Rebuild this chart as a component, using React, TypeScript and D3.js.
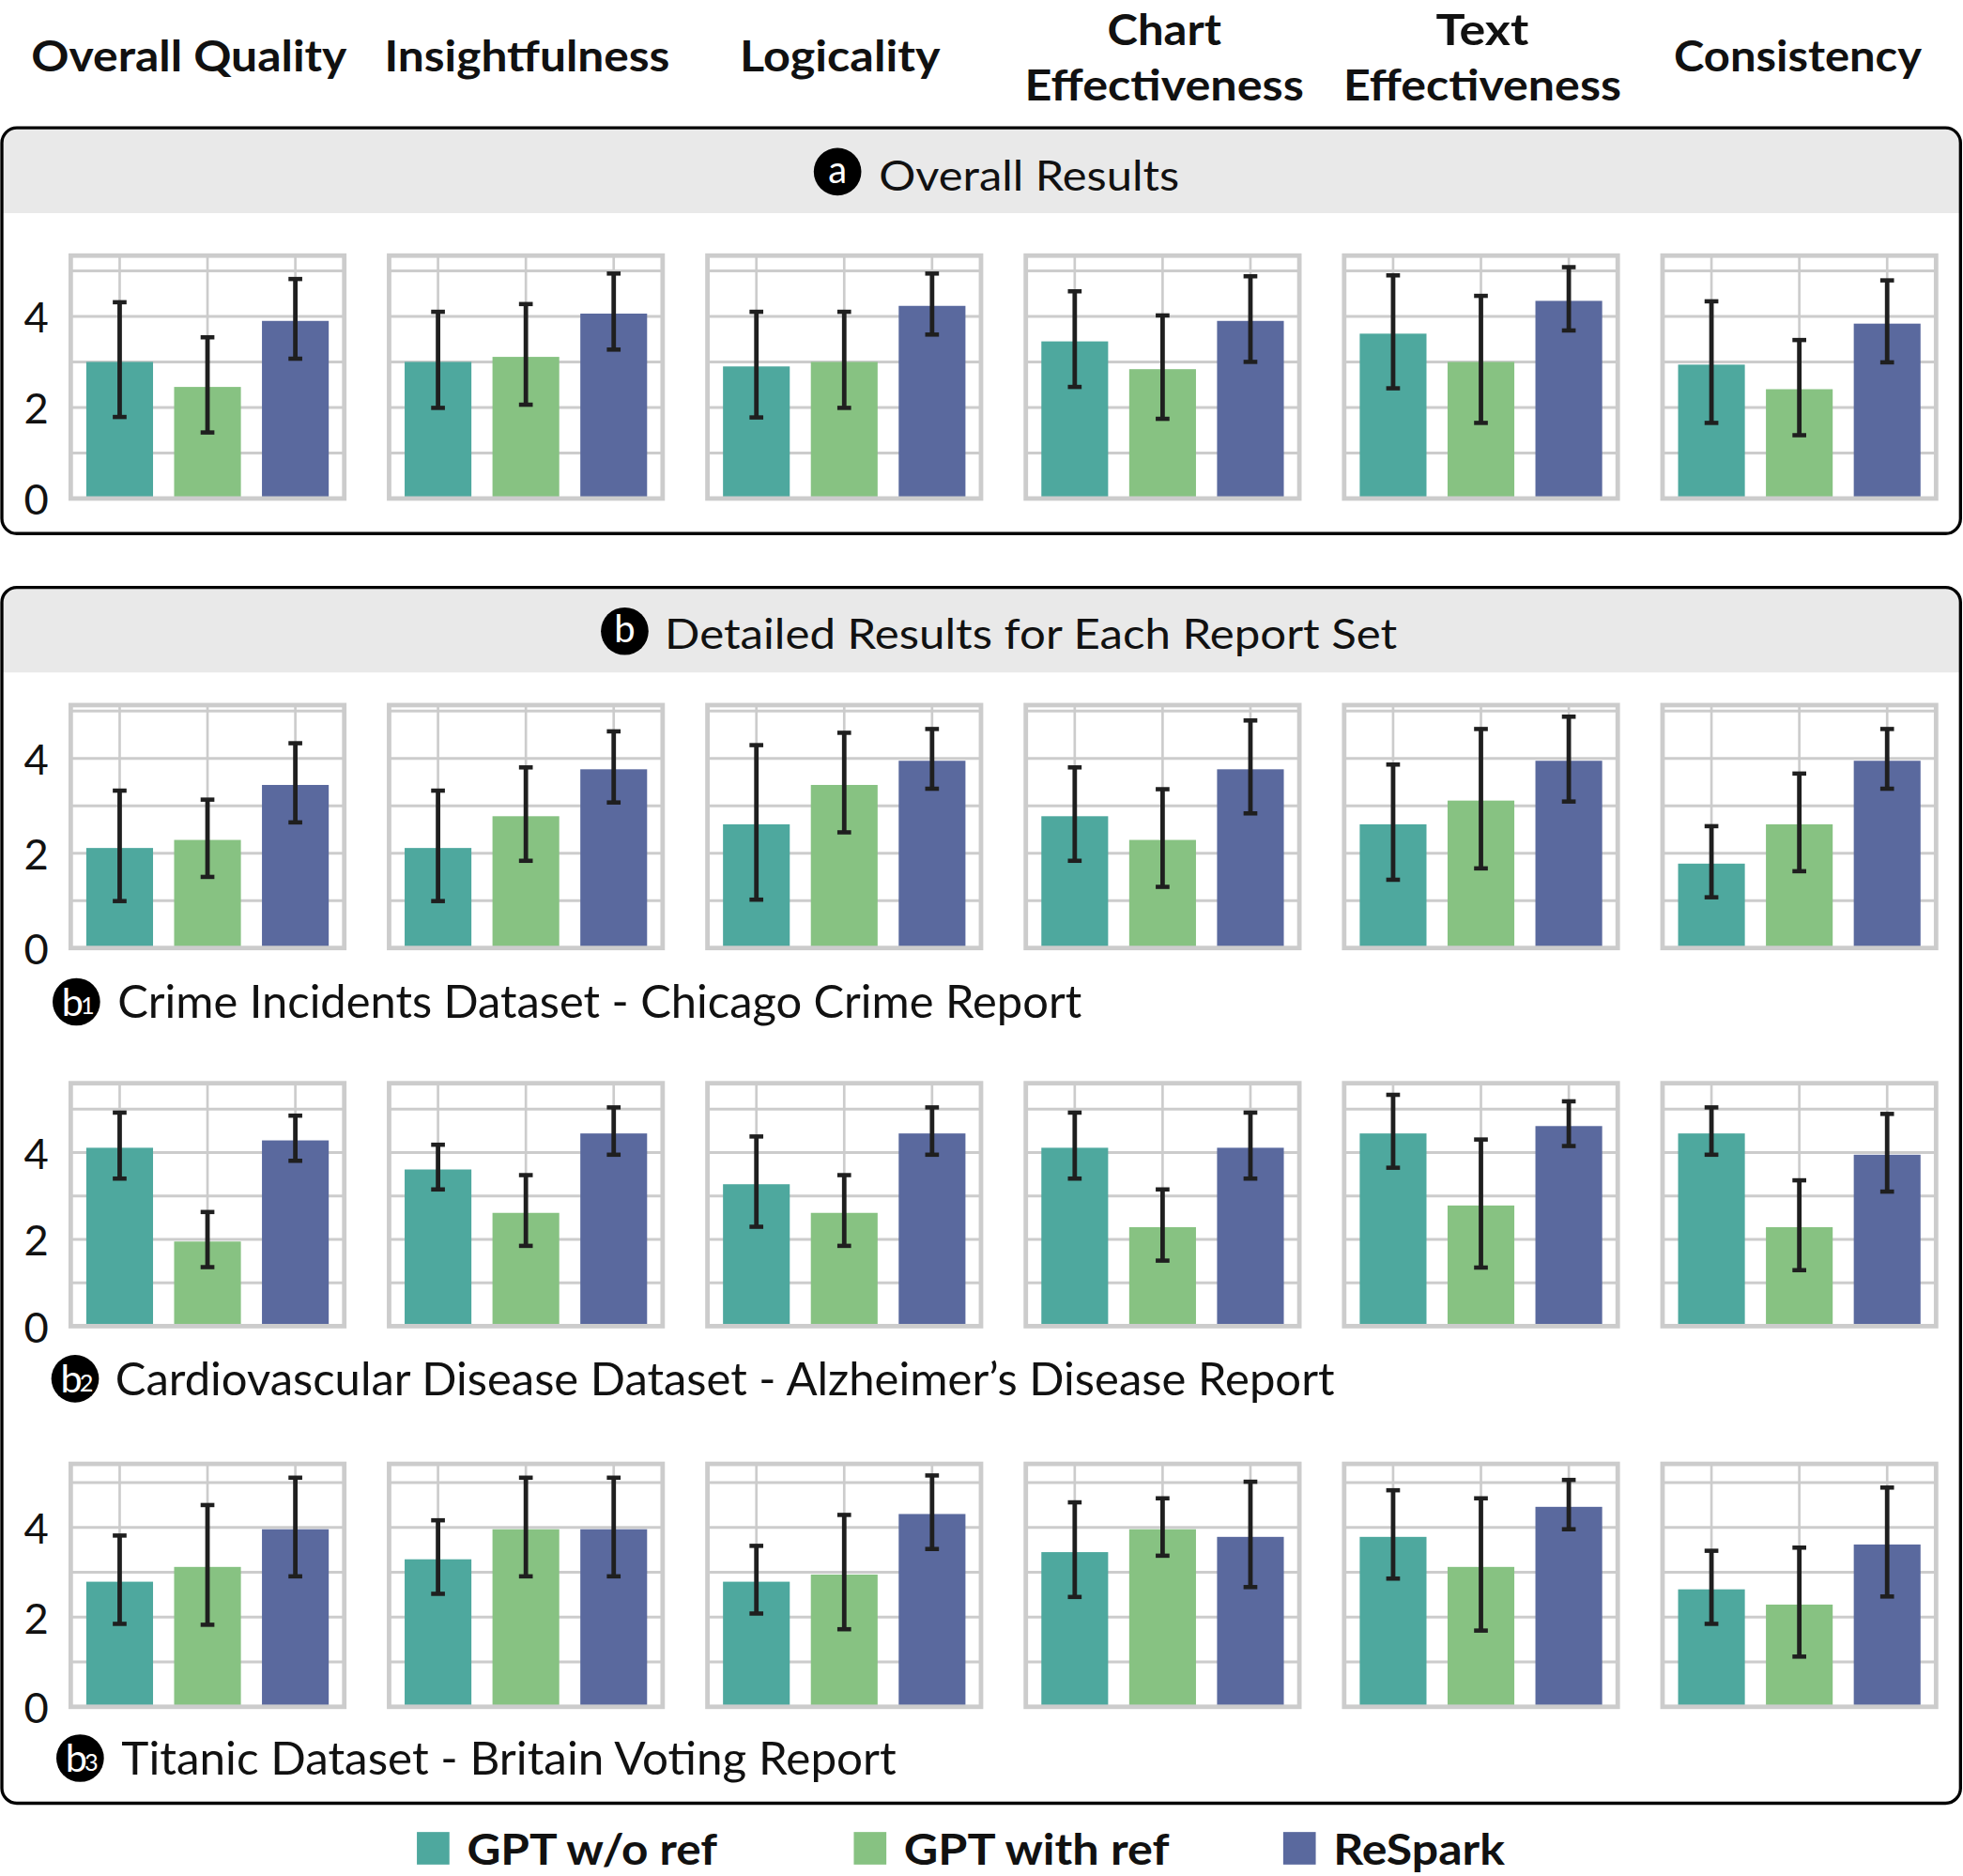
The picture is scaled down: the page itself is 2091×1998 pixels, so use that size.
import * as d3 from 'd3';
import * as React from 'react';

const W = 1568;
const H = 1498;
const FONT = 'Lato, "Open Sans", sans-serif';

const metrics = [
  'Overall Quality',
  'Insightfulness',
  'Logicality',
  'Chart Effectiveness',
  'Text Effectiveness',
  'Consistency',
];
const methods = ['GPT w/o ref', 'GPT with ref', 'ReSpark'];
const colors = ['#4ea89e', '#87c282', '#5a699e'];
const yTicks = [0, 2, 4];

// each row: one [GPT w/o ref, GPT with ref, ReSpark] triple per metric
const overallMean = [[3.0, 2.45, 3.9], [3.0, 3.11, 4.06], [2.9, 3.0, 4.23], [3.45, 2.84, 3.9], [3.62, 3.0, 4.34], [2.94, 2.4, 3.84]];
const overallLow = [[1.79, 1.45, 3.07], [1.99, 2.06, 3.27], [1.78, 1.99, 3.6], [2.45, 1.75, 3.0], [2.42, 1.66, 3.69], [1.66, 1.39, 2.99]];
const overallHigh = [[4.31, 3.54, 4.82], [4.1, 4.27, 4.94], [4.1, 4.1, 4.94], [4.55, 4.02, 4.88], [4.9, 4.45, 5.08], [4.33, 3.48, 4.79]];

const crimeMean = [[2.11, 2.28, 3.44], [2.11, 2.78, 3.77], [2.61, 3.44, 3.95], [2.78, 2.28, 3.77], [2.61, 3.11, 3.95], [1.78, 2.61, 3.95]];
const crimeLow = [[0.99, 1.5, 2.65], [0.99, 1.84, 3.07], [1.02, 2.44, 3.36], [1.84, 1.29, 2.84], [1.44, 1.68, 3.09], [1.07, 1.62, 3.36]];
const crimeHigh = [[3.32, 3.13, 4.32], [3.32, 3.81, 4.57], [4.28, 4.54, 4.62], [3.81, 3.35, 4.8], [3.87, 4.62, 4.88], [2.57, 3.68, 4.62]];

const cardioMean = [[4.11, 1.95, 4.28], [3.61, 2.61, 4.44], [3.27, 2.61, 4.44], [4.11, 2.28, 4.11], [4.44, 2.78, 4.61], [4.44, 2.28, 3.95]];
const cardioLow = [[3.4, 1.36, 3.81], [3.15, 1.85, 3.95], [2.29, 1.85, 3.95], [3.4, 1.51, 3.4], [3.65, 1.35, 4.15], [3.95, 1.29, 3.1]];
const cardioHigh = [[4.92, 2.63, 4.85], [4.18, 3.48, 5.04], [4.37, 3.48, 5.04], [4.92, 3.15, 4.92], [5.33, 4.3, 5.18], [5.04, 3.36, 4.89]];

const titanicMean = [[2.79, 3.12, 3.96], [3.29, 3.96, 3.96], [2.79, 2.95, 4.3], [3.45, 3.96, 3.79], [3.79, 3.12, 4.46], [2.62, 2.28, 3.62]];
const titanicLow = [[1.85, 1.83, 2.91], [2.52, 2.91, 2.91], [2.08, 1.73, 3.52], [2.45, 3.37, 2.67], [2.86, 1.7, 3.96], [1.85, 1.12, 2.46]];
const titanicHigh = [[3.82, 4.5, 5.11], [4.16, 5.11, 5.11], [3.59, 4.28, 5.16], [4.56, 4.65, 5.02], [4.83, 4.65, 5.06], [3.48, 3.55, 4.89]];

const rows = [
  { mean: overallMean, low: overallLow, high: overallHigh, top: 204 },
  { mean: crimeMean, low: crimeLow, high: crimeHigh, top: 563 },
  { mean: cardioMean, low: cardioLow, high: cardioHigh, top: 865 },
  { mean: titanicMean, low: titanicLow, high: titanicHigh, top: 1169 },
];

const plotH = 194;
const frameLeft = 56.5;
const frameStep = 254.3;
const frameW = 218.5;
const grid = '#cccccc';

// heading layout: centre x and fitted width per line
const headCx = [151, 421, 671, 930, 1184, 1436];
const headWidths = [[252], [228], [160], [91, 223], [74, 222], [198]];

const Badge = ({ cx, cy, letter, sub }: { cx: number; cy: number; letter: string; sub?: string }) => (
  <g>
    <circle cx={cx} cy={cy} r={19} fill="#000" />
    {sub ? (
      <>
        <text x={cx - 3} y={cy + 11} fill="#fff" fontSize={31} fontFamily={FONT} textAnchor="middle">{letter}</text>
        <text x={cx + 9} y={cy + 10} fill="#fff" fontSize={19} fontFamily={FONT} textAnchor="middle">{sub}</text>
      </>
    ) : (
      <text x={cx} y={cy + 9} fill="#fff" fontSize={30} fontFamily={FONT} textAnchor="middle">{letter}</text>
    )}
  </g>
);

const Panel = ({ left, top, mean, low, high, yMax }: any) => {
  const bottom = top + plotH;
  const x = d3.scalePoint<string>().domain(methods).range([left, left + frameW]).padding(0.557);
  const y = d3.scaleLinear().domain([0, yMax]).range([bottom, top]);
  const bw = x.step() * 0.76;
  const gridVals = d3.range(0, Math.floor(yMax) + 1);
  return (
    <g>
      {gridVals.map(v => (
        <line key={'h' + v} x1={left} x2={left + frameW} y1={y(v)} y2={y(v)} stroke={grid} strokeWidth={2.2} />
      ))}
      {methods.map(m => (
        <line key={'v' + m} x1={x(m)} x2={x(m)} y1={top} y2={bottom} stroke={grid} strokeWidth={2} />
      ))}
      {methods.map((m, i) => (
        <rect key={'b' + m} x={(x(m) as number) - bw / 2} y={y(mean[i])} width={bw} height={y(0) - y(mean[i])} fill={colors[i]} />
      ))}
      {methods.map((m, i) => {
        const cx = x(m) as number;
        return (
          <g key={'e' + m} stroke="#1f1f1f">
            <line x1={cx} x2={cx} y1={y(high[i])} y2={y(low[i])} strokeWidth={3.6} />
            <line x1={cx - 5.5} x2={cx + 5.5} y1={y(high[i])} y2={y(high[i])} strokeWidth={3.4} />
            <line x1={cx - 5.5} x2={cx + 5.5} y1={y(low[i])} y2={y(low[i])} strokeWidth={3.4} />
          </g>
        );
      })}
      <rect x={left} y={top} width={frameW} height={plotH} fill="none" stroke={grid} strokeWidth={3.6} />
    </g>
  );
};

const Row = ({ row }: any) => {
  const yMax = (d3.max(row.high as number[][], (h: number[]) => d3.max(h)) as number) * 1.05;
  const y = d3.scaleLinear().domain([0, yMax]).range([row.top + plotH, row.top]);
  return (
    <g>
      {yTicks.map(t => (
        <text key={t} x={29} y={y(t) + 13} textAnchor="middle" fontSize={34} fontFamily={FONT} fill="#111">{t}</text>
      ))}
      {metrics.map((m, j) => (
        <Panel key={m} left={frameLeft + j * frameStep} top={row.top} mean={row.mean[j]} low={row.low[j]} high={row.high[j]} yMax={yMax} />
      ))}
    </g>
  );
};

const headerBand = (y: number) => `M2,${y + 12} a11,11 0 0 1 11,-11 H1554 a11,11 0 0 1 11,11 V${y + 68} H2 Z`;

export default function App() {
  return (
    <svg
      width={2091}
      height={1998}
      viewBox={`0 0 ${W} ${H}`}
      style={{ position: 'absolute', left: 0, top: 0, background: '#fff' }}
    >
      <rect width={W} height={H} fill="#fff" />

      {metrics.map((m, j) => {
        const lines = m.endsWith('Effectiveness') ? m.split(' ') : [m];
        const baselines = lines.length === 2 ? [36, 80] : [57];
        return lines.map((line, k) => (
          <text
            key={m + k}
            x={headCx[j]}
            y={baselines[k]}
            textAnchor="middle"
            fontSize={34}
            fontWeight="bold"
            fontFamily={FONT}
            fill="#111"
            textLength={headWidths[j][k]}
            lengthAdjust="spacingAndGlyphs"
          >
            {line}
          </text>
        ));
      })}

      {/* panel a */}
      <path d={headerBand(102)} fill="#e9e9e9" />
      <rect x={1.5} y={102} width={1564.5} height={324} rx={12} fill="none" stroke="#000" strokeWidth={2.5} />
      <Badge cx={669} cy={137} letter="a" />
      <text x={702} y={152} fontSize={34} fontFamily={FONT} fill="#111" textLength={240} lengthAdjust="spacingAndGlyphs">Overall Results</text>

      {/* panel b */}
      <path d={headerBand(469)} fill="#e9e9e9" />
      <rect x={1.5} y={469} width={1564.5} height={971} rx={12} fill="none" stroke="#000" strokeWidth={2.5} />
      <Badge cx={499} cy={504} letter="b" />
      <text x={531} y={518} fontSize={34} fontFamily={FONT} fill="#111" textLength={585} lengthAdjust="spacingAndGlyphs">Detailed Results for Each Report Set</text>

      {rows.map((r, i) => (
        <Row key={i} row={r} />
      ))}

      <Badge cx={61} cy={800} letter="b" sub="1" />
      <text x={94} y={813} fontSize={36} fontFamily={FONT} fill="#111" textLength={770} lengthAdjust="spacingAndGlyphs">Crime Incidents Dataset - Chicago Crime Report</text>
      <Badge cx={60} cy={1101} letter="b" sub="2" />
      <text x={92} y={1114} fontSize={36} fontFamily={FONT} fill="#111" textLength={974} lengthAdjust="spacingAndGlyphs">Cardiovascular Disease Dataset - Alzheimer’s Disease Report</text>
      <Badge cx={64} cy={1404} letter="b" sub="3" />
      <text x={97} y={1417} fontSize={36} fontFamily={FONT} fill="#111" textLength={619} lengthAdjust="spacingAndGlyphs">Titanic Dataset - Britain Voting Report</text>

      {/* legend */}
      {methods.map((m, i) => {
        const lx = [333, 682, 1025][i];
        const tw = [200, 212, 137][i];
        return (
          <g key={m}>
            <rect x={lx} y={1463} width={26} height={26} fill={colors[i]} />
            <text x={lx + 40} y={1489} fontSize={34} fontWeight="bold" fontFamily={FONT} fill="#111" textLength={tw} lengthAdjust="spacingAndGlyphs">{m}</text>
          </g>
        );
      })}
    </svg>
  );
}
